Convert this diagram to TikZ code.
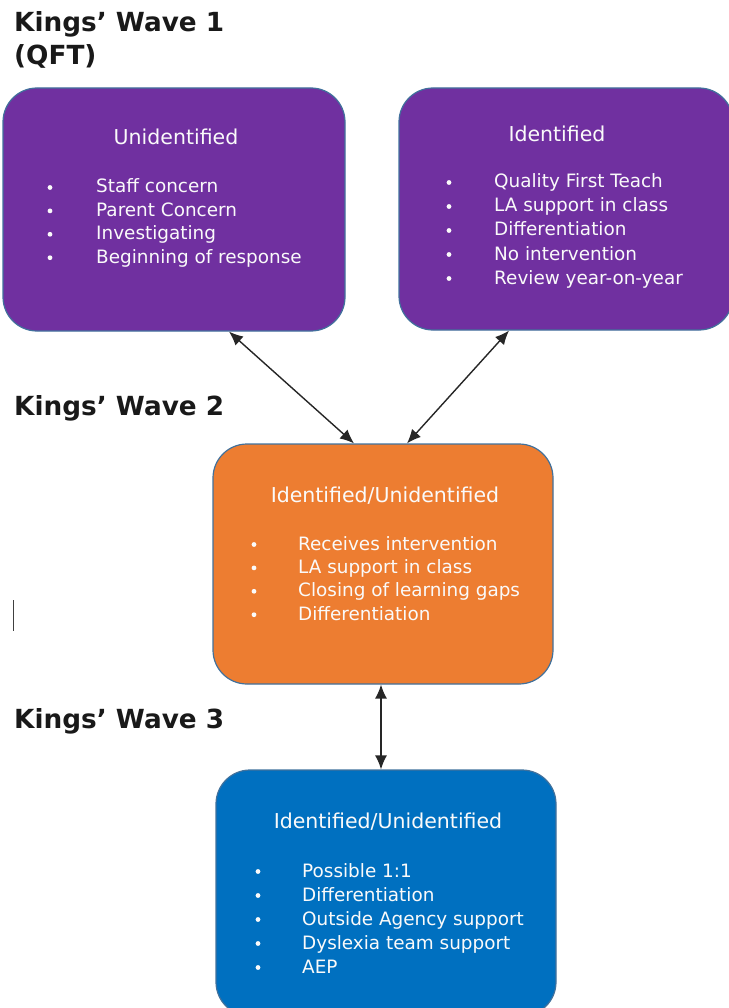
\documentclass[tikz,border=0pt]{standalone}
\usepackage{fontspec}
\setmainfont{DejaVu Sans}
\usetikzlibrary{arrows.meta}
\definecolor{wpurple}{HTML}{7030A0}
\definecolor{worange}{HTML}{ED7D31}
\definecolor{wblue}{HTML}{0070C0}
\definecolor{wedge}{HTML}{41719C}
\tikzset{
  box/.style={draw=wedge, line width=1.2pt, rounded corners=34pt, inner sep=0pt},
  heading/.style={anchor=base west, inner sep=0pt, font=\fontsize{26.3}{30}\selectfont\bfseries, text=black!90},
  title/.style={anchor=base, inner sep=0pt, font=\fontsize{20.5}{24}\selectfont, text=white!96!gray},
  item/.style={anchor=base west, inner sep=0pt, font=\fontsize{18.4}{21}\selectfont, text=white!96!gray},
  dbl/.style={line width=1.4pt, black!85, {Latex[length=14pt,width=12pt]}-{Latex[length=14pt,width=12pt]}},
}
\begin{document}
\begin{tikzpicture}[x=1pt,y=-1pt]
\useasboundingbox (0,0) rectangle (728,1008);
% headings
\node[heading] (h1) at (14,32) {Kings’ Wave 1};
\node[heading] (h1b) at (14,65) {(QFT)};
\node[heading] (h2) at (14,415) {Kings’ Wave 2};
\node[heading] (h3) at (14,728) {Kings’ Wave 3};
% cursor mark
\draw[line width=1.8pt, black!75] (13.5,600) -- (13.5,631);
% boxes
\node[box, fill=wpurple, minimum width=342pt, minimum height=243pt] (bu) at (174,209.5) {};
\node[box, fill=wpurple, minimum width=334pt, minimum height=242pt] (bi) at (566,209) {};
\node[box, fill=worange, minimum width=340pt, minimum height=240pt] (bo) at (383,564) {};
\node[box, fill=wblue, minimum width=340pt, minimum height=246pt] (bb) at (386,893) {};
% box 1
\node[title] (tu) at (176,145) {Unidentified};
\foreach \t [count=\i] in {Staff concern, Parent Concern, Investigating, Beginning of response} {
  \node[item] (u\i) at (96,{193+23.4*(\i-1)}) {\t};
  \fill[white!96!gray] (50,{187.5+23.4*(\i-1)}) circle (2.4pt);
}
% box 2
\node[title] (ti) at (557,142) {Identified};
\foreach \t [count=\i] in {Quality First Teach, LA support in class, Differentiation, No intervention, Review year-on-year} {
  \node[item] (i\i) at (494,{188+24*(\i-1)}) {\t};
  \fill[white!96!gray] (449,{182.5+24*(\i-1)}) circle (2.4pt);
}
% box 3
\node[title] (to) at (385,502) {Identified/Unidentified};
\foreach \t [count=\i] in {Receives intervention, LA support in class, Closing of learning gaps, Differentiation} {
  \node[item] (o\i) at (298,{550+23.4*(\i-1)}) {\t};
  \fill[white!96!gray] (254,{544.5+23.4*(\i-1)}) circle (2.4pt);
}
% box 4
\node[title] (tb) at (388,828) {Identified/Unidentified};
\foreach \t [count=\i] in {Possible 1:1, Differentiation, Outside Agency support, Dyslexia team support, AEP} {
  \node[item] (b\i) at (302,{877+24*(\i-1)}) {\t};
  \fill[white!96!gray] (258,{871.5+24*(\i-1)}) circle (2.4pt);
}
% connectors
\draw[dbl] ([xshift=55pt]bu.south) -- ([xshift=-29pt]bo.north);
\draw[dbl] ([xshift=-57pt]bi.south) -- ([xshift=24pt]bo.north);
\draw[dbl] ([xshift=-2pt]bo.south) -- ([xshift=-5pt]bb.north);
\end{tikzpicture}
\end{document}
